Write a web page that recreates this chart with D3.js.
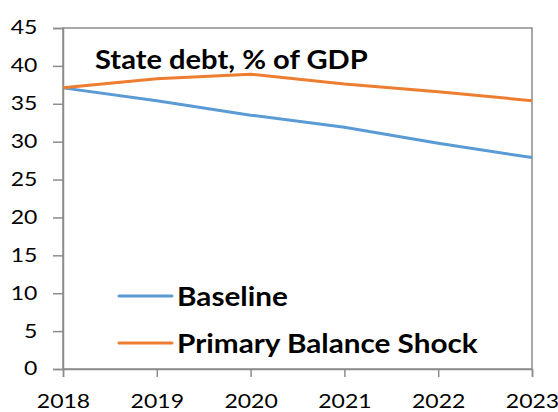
<!DOCTYPE html>
<html><head><meta charset="utf-8">
<script src="https://cdn.jsdelivr.net/npm/d3@7"></script>
<style>body{margin:0;background:#fff}svg{display:block}text{font-family:Lato,"Open Sans",sans-serif}</style>
</head><body>
<svg id="chart" width="558" height="412"></svg>
<script>
const years = [2018, 2019, 2020, 2021, 2022, 2023];
const baseline = [37.1, 35.4, 33.5, 31.9, 29.8, 27.9];
const shock = [37.1, 38.3, 38.9, 37.6, 36.6, 35.4];
const yTicks = [0, 5, 10, 15, 20, 25, 30, 35, 40, 45];
const seriesNames = ["Baseline", "Primary Balance Shock"];
const colors = ["#5B9BD5", "#ED7D31"];
const title = "State debt, % of GDP";

const svg = d3.select("#chart");
const m = {l: 63, r: 532, t: 28, b: 369};
const x = d3.scalePoint().domain(years).range([m.l, m.r]);
const y = d3.scaleLinear().domain([0, 45]).range([m.b, m.t]);
const axisColor = "#8c8c8c";
const tickScale = 1.23;
const titleScale = 1.12;
const legendScale = 1.1;

svg.append("rect").attr("x", m.l).attr("y", m.t).attr("width", m.r - m.l).attr("height", m.b - m.t)
  .attr("fill", "none").attr("stroke", axisColor).attr("stroke-width", 1.5);

const yAxis = svg.append("g").attr("transform", `translate(${m.l},0)`)
  .call(d3.axisLeft(y).tickValues(yTicks).tickSize(10).tickPadding(16));
const xAxis = svg.append("g").attr("transform", `translate(0,${m.b})`)
  .call(d3.axisBottom(x).tickSize(8).tickPadding(18).tickFormat(d3.format("d")));
[yAxis, xAxis].forEach(g => {
  g.select(".domain").attr("stroke", axisColor).attr("stroke-width", 1.5);
  g.selectAll(".tick line").attr("stroke", axisColor).attr("stroke-width", 1.5);
  g.selectAll("text").attr("font-size", 18.7).attr("fill", "#000").attr("font-family", "Lato")
    .attr("transform", `scale(${tickScale},1)`);
});
yAxis.selectAll(".tick text").attr("x", -25.7 / tickScale);

const line = d3.line().x((d, i) => x(years[i])).y(d => y(d));
[baseline, shock].forEach((s, i) => {
  svg.append("path").datum(s).attr("d", line).attr("fill", "none")
    .attr("stroke", colors[i]).attr("stroke-width", 3).attr("stroke-linejoin", "round");
});

svg.append("text").attr("transform", `translate(95,68.5) scale(${titleScale},1)`)
  .attr("font-size", 26).attr("font-weight", "bold").text(title);

const legY = [296, 343];
seriesNames.forEach((n, i) => {
  svg.append("line").attr("x1", 119).attr("x2", 172).attr("y1", legY[i]).attr("y2", legY[i])
    .attr("stroke", colors[i]).attr("stroke-width", 3).attr("stroke-linecap", "round");
  svg.append("text").attr("transform", `translate(177,${legY[i] + 10}) scale(${legendScale},1)`)
    .attr("font-size", 27).attr("font-weight", "bold").text(n);
});
</script>
</body></html>
